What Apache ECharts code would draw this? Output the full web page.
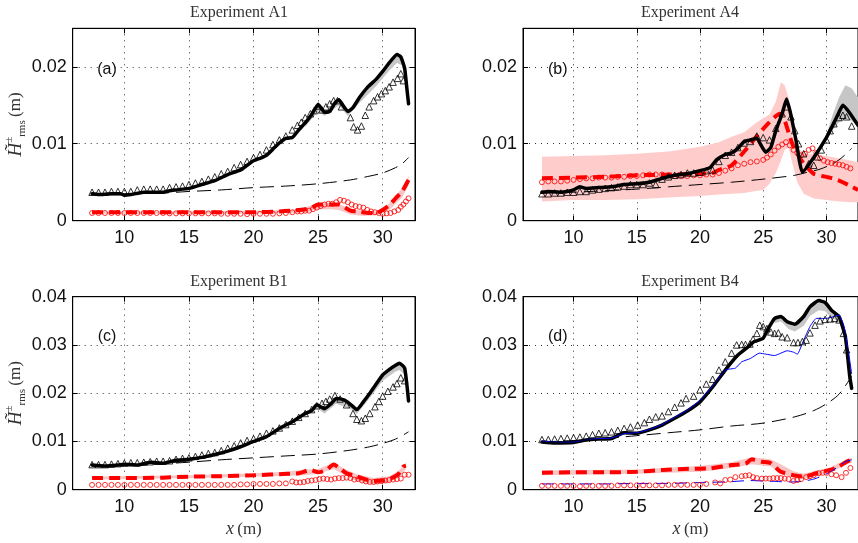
<!DOCTYPE html>
<html><head><meta charset="utf-8">
<script src="https://cdn.jsdelivr.net/npm/echarts@6/dist/echarts.min.js"></script>
<style>html,body{margin:0;padding:0;background:#fff}#c{width:858px;height:543px}</style>
</head><body><div id="c"></div>
<script>
// ---------- ticks & labels ----------
const xTicks = [10, 15, 20, 25, 30];
const yTicksTop = [0, 0.01, 0.02];
const yTicksBottom = [0, 0.01, 0.02, 0.03, 0.04];
const panelTitles = ['Experiment A1', 'Experiment A4', 'Experiment B1', 'Experiment B4'];
const panelLetters = ['(a)', '(b)', '(c)', '(d)'];

// ---------- Panel (a) Experiment A1 ----------
const aLine = [[7.5,0.0035],[8,0.0034],[9,0.0035],[9.7,0.0035],[10,0.0033],[10.5,0.0034],[11.5,0.0037],[12,0.0037],[13,0.0037],[13.5,0.0039],[14,0.004],[15,0.0042],[16,0.0047],[17,0.0052],[17.5,0.0056],[18,0.006],[19,0.0066],[19.5,0.0072],[20,0.0078],[20.5,0.0081],[21,0.0085],[21.5,0.0093],[22,0.0101],[22.5,0.0107],[23,0.0108],[23.5,0.0118],[24,0.0127],[24.5,0.0138],[25,0.0151],[25.5,0.0141],[25.9,0.0142],[26.3,0.0153],[26.6,0.0157],[27,0.0148],[27.3,0.0142],[27.7,0.0147],[28.2,0.016],[28.8,0.0173],[29.5,0.0184],[30,0.0194],[30.5,0.0205],[31.1,0.0216],[31.4,0.0213],[31.7,0.0198],[31.85,0.0175],[32,0.0152]];
const aTri = [[7.5,0.0037],[8,0.0037],[8.5,0.0037],[9,0.0038],[9.5,0.0038],[10,0.0038],[10.5,0.0038],[11,0.004],[11.5,0.0041],[12,0.0041],[12.5,0.0041],[13,0.0041],[13.5,0.0043],[14,0.0044],[14.5,0.0045],[15,0.0047],[15.5,0.0049],[16,0.0051],[16.5,0.0054],[17,0.0057],[17.5,0.0061],[18,0.0064],[18.5,0.0069],[19,0.0073],[19.5,0.0077],[20,0.0082],[20.5,0.0086],[21,0.0092],[21.5,0.0099],[22,0.0105],[22.5,0.011],[23,0.0118],[23.4,0.0124],[23.7,0.0128],[24,0.0134],[24.4,0.0139],[24.7,0.0143],[25,0.0149],[25.3,0.0144],[25.6,0.0148],[25.9,0.0152],[26.2,0.0156],[26.5,0.0156],[26.8,0.0148],[27.5,0.0134],[27.75,0.0122],[28.05,0.0118],[28.35,0.0123],[28.65,0.0137],[28.95,0.0148],[29.3,0.0156],[29.6,0.0161],[29.9,0.0165],[30.2,0.0169],[30.5,0.0174],[30.8,0.018],[31.15,0.0185],[31.4,0.0191],[31.6,0.0182]];
const aDash = [[7.5,0.0034],[10,0.0035],[13,0.0036],[15,0.0038],[17.5,0.004],[20,0.0043],[22.5,0.0045],[25,0.0048],[27.5,0.0053],[29,0.0058],[30,0.0062],[31,0.0069],[31.5,0.0074],[32,0.0082]];
const aRed = [[7.5,0.0011],[10,0.0011],[12.5,0.0011],[15,0.0011],[17.5,0.0011],[20,0.0011],[22,0.0012],[23,0.0013],[24,0.0015],[24.5,0.0017],[25,0.0021],[26,0.0021],[26.6,0.0021],[27,0.0018],[27.5,0.0013],[28,0.0012],[29,0.001],[29.5,0.001],[30,0.0014],[30.5,0.002],[31,0.0029],[31.5,0.0038],[32,0.0053]];
const aCirc = [[7.5,0.001],[8,0.001],[8.5,0.001],[9,0.001],[9.5,0.001],[10,0.001],[10.5,0.001],[11,0.001],[11.5,0.001],[12,0.001],[12.5,0.001],[13,0.001],[13.5,0.00095],[14,0.00095],[14.5,0.00095],[15,0.00095],[15.5,0.00095],[16,0.00095],[16.5,0.00095],[17,0.00095],[17.5,0.0009],[18,0.0009],[18.5,0.0009],[19,0.0009],[19.5,0.00085],[20,0.0009],[20.5,0.0009],[21,0.0009],[21.5,0.0009],[22,0.00095],[22.5,0.001],[23,0.0011],[23.4,0.0012],[23.7,0.0012],[24,0.0013],[24.3,0.0013],[24.6,0.0015],[24.9,0.0017],[25.2,0.0019],[25.5,0.0021],[25.8,0.0022],[26.1,0.0022],[26.4,0.0024],[26.7,0.0027],[27,0.0026],[27.3,0.0024],[27.6,0.0021],[27.9,0.0019],[28.2,0.0018],[28.5,0.0017],[28.8,0.0014],[29.1,0.0012],[29.4,0.0011],[29.7,0.001],[30,0.0009],[30.3,0.00095],[30.6,0.001],[30.9,0.0012],[31.2,0.0014],[31.4,0.0018],[31.6,0.0021],[31.8,0.0025],[32,0.0029]];
const aGreyBand = [[24,0.0122,0.0127],[25,0.0142,0.015],[25.5,0.0136,0.0141],[26.6,0.015,0.0157],[27.3,0.0136,0.0142],[28.2,0.0153,0.016],[29.5,0.0175,0.0184],[30.5,0.0195,0.0205],[31.1,0.0205,0.0216],[31.5,0.0202,0.0212],[31.8,0.0175,0.019],[32,0.0148,0.0152]];
const aPinkBand = [[7.5,0.0009,0.0012],[15,0.0009,0.0012],[20,0.0009,0.0013],[23,0.001,0.0014],[24,0.0011,0.0017],[25,0.0015,0.0023],[26,0.0015,0.0023],[26.6,0.0014,0.0022],[27.5,0.0008,0.0015],[28.5,0.0006,0.0013],[29.5,0.0007,0.0012],[30.5,0.0014,0.0022],[31,0.0022,0.0033],[31.5,0.003,0.0042],[32,0.0046,0.0058]];

// ---------- Panel (b) Experiment A4 ----------
const bLine = [[7.5,0.0037],[8,0.0038],[9,0.0037],[9.5,0.0038],[10,0.004],[10.5,0.0044],[11,0.0042],[12,0.0043],[13,0.0044],[14,0.0047],[15,0.0048],[16,0.005],[17,0.0055],[18,0.0059],[19,0.0061],[20,0.0065],[20.8,0.0069],[21.3,0.0079],[22,0.0086],[22.5,0.0088],[23,0.0094],[23.5,0.0103],[24,0.0105],[24.5,0.0107],[24.8,0.0099],[25.2,0.0089],[25.6,0.0095],[26,0.0117],[26.5,0.0139],[26.85,0.0158],[27.2,0.0137],[27.6,0.0104],[28.1,0.0063],[29,0.0082],[30,0.0108],[30.5,0.0124],[31,0.0141],[31.3,0.015],[31.8,0.0141],[32.5,0.0124]];
const bTri = [[7.5,0.0035],[8,0.0035],[8.5,0.0036],[9,0.0036],[9.5,0.0037],[10,0.0037],[10.5,0.0038],[11,0.0038],[11.5,0.004],[12,0.0041],[12.5,0.0042],[13,0.0043],[13.5,0.0044],[14,0.0045],[14.5,0.0047],[15,0.0047],[15.5,0.0047],[16,0.0049],[16.5,0.0047],[17,0.0054],[17.5,0.0057],[18,0.0059],[18.5,0.006],[19,0.0062],[19.5,0.0062],[20,0.0063],[20.5,0.0065],[21,0.0066],[21.5,0.0077],[22,0.0085],[22.5,0.0089],[23,0.0095],[23.5,0.0101],[24,0.0103],[24.5,0.011],[25,0.0108],[25.5,0.0105],[26,0.012],[26.5,0.0139],[26.8,0.0148],[27.2,0.0135],[27.5,0.0117],[27.8,0.01],[28.2,0.0087],[28.6,0.0074],[29,0.0072],[29.3,0.0083],[29.6,0.0092],[30,0.0105],[30.3,0.0117],[30.6,0.0126],[31,0.0134],[31.3,0.0137],[31.6,0.0135],[32,0.0123]];
const bDash = [[7.5,0.0036],[10,0.0037],[12.5,0.0039],[15,0.0041],[17.5,0.0044],[20,0.0047],[22.5,0.005],[25,0.0054],[27.5,0.0059],[28.5,0.0063],[29.5,0.0067],[30.5,0.0074],[31,0.0079],[31.5,0.0086],[32,0.0094]];
const bRed = [[7.5,0.0055],[10,0.0056],[12.5,0.0057],[15,0.0059],[17.5,0.006],[20,0.0061],[21,0.0062],[21.5,0.0066],[22.5,0.0072],[23.5,0.009],[24.5,0.011],[25.5,0.0128],[26.3,0.0139],[26.7,0.013],[27.3,0.01],[28,0.0079],[29,0.0061],[30,0.0057],[30.5,0.0055],[31,0.0052],[31.8,0.0046],[32.5,0.004]];
const bCirc = [[7.5,0.005],[8,0.0051],[8.5,0.0051],[9,0.0051],[9.5,0.0052],[10,0.0053],[10.5,0.0054],[11,0.0055],[11.5,0.0055],[12,0.0056],[12.5,0.0056],[13,0.0056],[13.5,0.0057],[14,0.0057],[14.5,0.0058],[15,0.0058],[15.5,0.0059],[16,0.006],[16.5,0.006],[17,0.006],[17.5,0.0059],[18,0.0058],[18.5,0.0058],[19,0.0058],[19.5,0.0059],[20,0.0059],[20.5,0.006],[21,0.006],[21.5,0.0062],[22,0.0065],[22.5,0.0068],[23,0.0072],[23.5,0.0074],[24,0.0076],[24.5,0.0077],[25,0.0079],[25.3,0.0082],[25.6,0.0086],[25.9,0.0091],[26.2,0.0096],[26.5,0.0099],[26.8,0.0102],[27.1,0.0098],[27.4,0.0092],[27.7,0.0088],[28,0.0085],[28.3,0.0087],[28.6,0.0092],[28.9,0.0094],[29.2,0.0088],[29.5,0.0081],[29.8,0.0078],[30.1,0.0076],[30.4,0.0075],[30.7,0.0074],[31,0.0073],[31.3,0.0072],[31.6,0.007],[31.9,0.0068]];
const bGreyBand = [[29.5,0.0092,0.0096],[30,0.0104,0.0112],[30.5,0.0118,0.0138],[31,0.0128,0.016],[31.5,0.0132,0.0176],[32,0.013,0.0172],[32.5,0.0122,0.016]];
const bPinkBand = [[7.5,0.0025,0.0083],[10,0.0027,0.0084],[12.5,0.0027,0.0085],[15,0.0028,0.0087],[17.5,0.003,0.009],[20,0.0032,0.0096],[21.5,0.0034,0.0102],[22.5,0.0035,0.0109],[23.5,0.0036,0.0115],[24.5,0.0039,0.0128],[25,0.004,0.0133],[25.5,0.0048,0.0138],[26,0.0062,0.0155],[26.4,0.0078,0.018],[26.7,0.0092,0.0176],[27,0.0095,0.016],[27.3,0.0075,0.011],[27.7,0.005,0.0095],[28.2,0.0035,0.0088],[29,0.0029,0.0086],[30,0.0027,0.0084],[31,0.0025,0.0081],[32,0.0024,0.0078],[32.5,0.0024,0.0076]];

// ---------- Panel (c) Experiment B1 ----------
const cLine = [[7.5,0.0051],[8.5,0.0049],[9.5,0.0051],[10,0.0053],[11,0.0051],[12,0.0057],[13,0.0055],[14,0.0061],[15,0.0063],[16,0.0067],[17,0.0073],[18,0.008],[19,0.0089],[20,0.01],[21,0.011],[22,0.0127],[23,0.0141],[24,0.0158],[24.5,0.0164],[24.9,0.0176],[25.5,0.0168],[26,0.0178],[26.4,0.0189],[27,0.0186],[27.5,0.0177],[28,0.0166],[28.5,0.0182],[29,0.02],[30,0.0238],[30.5,0.0249],[31,0.0258],[31.3,0.0262],[31.7,0.0252],[32,0.0184]];
const cTri = [[7.5,0.0052],[8,0.0052],[8.5,0.0052],[9,0.0053],[9.5,0.0054],[10,0.0055],[10.5,0.0056],[11,0.0056],[11.5,0.0057],[12,0.0058],[12.5,0.0059],[13,0.0059],[13.5,0.006],[14,0.0063],[14.5,0.0065],[15,0.0066],[15.5,0.0069],[16,0.0072],[16.5,0.0075],[17,0.0077],[17.5,0.0081],[18,0.0086],[18.5,0.0091],[19,0.0097],[19.5,0.0102],[20,0.0106],[20.5,0.0111],[21,0.0117],[21.5,0.0122],[22,0.0128],[22.5,0.0135],[23,0.0142],[23.5,0.015],[24,0.0158],[24.5,0.0166],[24.9,0.0174],[25.3,0.0179],[25.6,0.0183],[25.9,0.0188],[26.3,0.0195],[26.7,0.0188],[27.2,0.0176],[27.7,0.0158],[28,0.0146],[28.35,0.0143],[28.65,0.0148],[29,0.0158],[29.4,0.0172],[29.7,0.0183],[30,0.0194],[30.4,0.0204],[30.8,0.0213],[31.1,0.022],[31.4,0.0232],[31.7,0.0226]];
const cDash = [[7.5,0.0049],[10,0.0051],[13,0.0054],[15,0.0057],[17.5,0.0062],[20,0.0066],[22.5,0.007],[25,0.0074],[27.5,0.0082],[29,0.0089],[30,0.0096],[31,0.0105],[32,0.012]];
const cRed = [[7.5,0.0024],[10,0.0024],[13,0.0025],[15,0.0027],[17.5,0.0028],[20,0.003],[22.6,0.0033],[23.5,0.0034],[24.4,0.0041],[25,0.0036],[25.6,0.004],[26.2,0.0052],[26.6,0.0046],[27.2,0.0034],[27.7,0.003],[28.5,0.0023],[29.3,0.0018],[30,0.0019],[30.6,0.0023],[31.2,0.0032],[31.6,0.0048],[31.8,0.005]];
const cCirc = [[7.5,0.001],[8,0.001],[8.5,0.001],[9,0.001],[9.5,0.001],[10,0.001],[10.5,0.001],[11,0.001],[11.5,0.001],[12,0.001],[12.5,0.001],[13,0.001],[13.5,0.001],[14,0.001],[14.5,0.001],[15,0.001],[15.5,0.001],[16,0.001],[16.5,0.001],[17,0.001],[17.5,0.001],[18,0.001],[18.5,0.001],[19,0.0011],[19.5,0.0011],[20,0.0012],[20.5,0.0012],[21,0.0012],[21.5,0.0012],[22,0.0013],[22.5,0.0013],[23,0.0017],[23.3,0.0015],[23.6,0.0015],[23.9,0.0016],[24.2,0.0018],[24.5,0.0019],[24.8,0.002],[25.1,0.0022],[25.4,0.0023],[25.7,0.0022],[26,0.0021],[26.3,0.0023],[26.6,0.0024],[26.9,0.0024],[27.2,0.0025],[27.5,0.0024],[27.8,0.0021],[28.1,0.0022],[28.4,0.0019],[28.7,0.0017],[29,0.0016],[29.3,0.0016],[29.6,0.0017],[29.9,0.0018],[30.2,0.0019],[30.5,0.002],[30.8,0.0021],[31.1,0.0022],[31.4,0.0023],[31.7,0.0031],[32,0.0031]];
const cGreyBand = [[24,0.0152,0.0158],[24.9,0.0169,0.0176],[25.5,0.0158,0.0168],[26.4,0.0178,0.0189],[27.5,0.0168,0.0177],[28,0.0157,0.0166],[29,0.019,0.02],[30,0.0226,0.0238],[31,0.0245,0.0258],[31.3,0.0248,0.0262],[31.7,0.0238,0.0252],[32,0.0175,0.0184]];
const cPinkBand = [[7.5,0.0021,0.0027],[15,0.0024,0.003],[20,0.0027,0.0034],[22.5,0.0029,0.0037],[24,0.003,0.0042],[25,0.0033,0.0043],[26.2,0.0043,0.0056],[27,0.0031,0.0044],[28,0.0018,0.0032],[29.3,0.0011,0.0024],[30.5,0.0015,0.0028],[31.2,0.0025,0.0038],[31.8,0.0043,0.0056]];

// ---------- Panel (d) Experiment B4 ----------
const dLine = [[7.5,0.0099],[8.5,0.0097],[10,0.0098],[11,0.0103],[12,0.0105],[13,0.0106],[14,0.0118],[15,0.0117],[16,0.0124],[17,0.0134],[18,0.0148],[19,0.0163],[20,0.0182],[21,0.0213],[22,0.0248],[23,0.0279],[23.8,0.0296],[24.3,0.0307],[25,0.0314],[25.4,0.0334],[25.9,0.0355],[26.4,0.0359],[26.9,0.0348],[27.5,0.0343],[28.2,0.0359],[28.7,0.0379],[29.4,0.0392],[29.9,0.0388],[30.4,0.0372],[31,0.0359],[31.5,0.0317],[31.85,0.0234],[32,0.021]];
const dBlue = [[7.5,0.0101],[8.5,0.0099],[10,0.0099],[11,0.0104],[12,0.0106],[13,0.0107],[14,0.0116],[15,0.0118],[16,0.0125],[17,0.0135],[18,0.015],[19,0.0165],[20,0.0185],[21,0.0215],[22,0.0248],[22.8,0.0252],[23.3,0.0265],[24,0.0272],[24.7,0.0283],[25.2,0.0281],[25.9,0.0278],[26.4,0.0283],[26.9,0.0288],[27.4,0.0285],[27.7,0.0281],[28.2,0.031],[28.7,0.0338],[29.2,0.0355],[30,0.0355],[30.5,0.0358],[31,0.0362],[31.4,0.0338],[31.8,0.0276],[32,0.024]];
const dTri = [[7.5,0.0104],[8,0.0104],[8.5,0.0105],[9,0.0106],[9.5,0.0107],[10,0.0108],[10.5,0.0109],[11,0.0111],[11.5,0.0114],[12,0.0117],[12.5,0.0118],[13,0.012],[13.5,0.0123],[14,0.0127],[14.5,0.013],[15.07,0.0134],[15.6,0.0139],[16,0.0146],[16.5,0.0151],[17,0.0153],[17.5,0.0162],[18,0.0171],[18.5,0.018],[18.9,0.0189],[19.5,0.0194],[20,0.0207],[20.5,0.0219],[21,0.0229],[21.5,0.0248],[22,0.0265],[22.5,0.0283],[22.9,0.03],[23.3,0.0301],[23.6,0.0301],[23.95,0.0302],[24.2,0.0312],[24.5,0.0324],[24.73,0.0341],[25,0.0338],[25.3,0.0334],[25.6,0.0327],[25.9,0.0324],[26.2,0.0325],[26.5,0.0317],[26.9,0.0315],[27.4,0.0305],[27.75,0.0305],[28.1,0.0307],[28.4,0.031],[28.7,0.0325],[29.1,0.0341],[29.5,0.035],[29.9,0.0353],[30.3,0.0354],[30.65,0.0355],[31,0.0352],[31.35,0.0324],[31.6,0.029]];
const dDash = [[7.5,0.0099],[10,0.0102],[12.5,0.0106],[15,0.0112],[17.5,0.0118],[20,0.0124],[22.5,0.0132],[25,0.0138],[27.5,0.0151],[29,0.0164],[30,0.0178],[31,0.0198],[32,0.0235]];
const dRed = [[7.5,0.0035],[10,0.0036],[12.5,0.0036],[15,0.0037],[17,0.0041],[18.7,0.0043],[20.7,0.0044],[22.5,0.0051],[23.6,0.0054],[24.1,0.0063],[24.9,0.0058],[25.6,0.0055],[26.4,0.0037],[27.4,0.003],[28.2,0.0027],[29.2,0.0034],[30.3,0.0041],[31,0.0048],[31.6,0.0058],[32,0.0062]];
const dCirc = [[7.5,0.0008],[8,0.0008],[8.5,0.0008],[9,0.0008],[9.5,0.0008],[10,0.0008],[10.5,0.0007],[11,0.0008],[11.5,0.0008],[12,0.0008],[12.5,0.0008],[13,0.0008],[13.5,0.0009],[14,0.0009],[14.5,0.0009],[15,0.0009],[15.5,0.0009],[16,0.0009],[16.5,0.0009],[17,0.0009],[17.5,0.001],[18,0.001],[18.5,0.001],[19,0.001],[19.5,0.001],[20,0.001],[20.5,0.0012],[21.2,0.0015],[21.6,0.0013],[22,0.002],[22.4,0.0021],[22.8,0.0026],[23.3,0.0028],[23.6,0.0029],[23.9,0.003],[24.2,0.0026],[24.5,0.0024],[24.9,0.0023],[25.2,0.0023],[25.5,0.0023],[25.8,0.0024],[26.1,0.0024],[26.4,0.0024],[26.7,0.0023],[27,0.0022],[27.4,0.0018],[27.7,0.002],[28,0.0022],[28.4,0.0026],[28.7,0.0028],[29,0.003],[29.4,0.0034],[29.7,0.0035],[30,0.0035],[30.4,0.0032],[30.77,0.003],[31.2,0.0026],[31.55,0.0035],[31.9,0.0045]];
const dBlueDash = [[7.5,0.0012],[10,0.0012],[12.5,0.0012],[15,0.0013],[17.5,0.0013],[20,0.0015],[22,0.0016],[24,0.0019],[25,0.0018],[26,0.0017],[27,0.0016],[28,0.0017],[29,0.0022],[29.8,0.003],[30.5,0.004],[31.5,0.0058],[32,0.0062]];
const dGreyBand = [[25.9,0.0345,0.0355],[26.4,0.0349,0.0359],[27,0.0333,0.0347],[27.5,0.0328,0.0343],[28.2,0.034,0.0359],[28.7,0.036,0.0379],[29.4,0.0372,0.0392],[29.9,0.037,0.0388],[30.4,0.0356,0.0372],[31,0.0348,0.0359],[31.5,0.031,0.0317]];
const dPinkBand = [[7.5,0.003,0.004],[15,0.0033,0.0042],[20,0.0037,0.0049],[22.5,0.0045,0.0057],[24.1,0.0053,0.0067],[25.6,0.0048,0.0063],[26.4,0.0033,0.0052],[27.4,0.0025,0.0038],[28.2,0.0022,0.0033],[29.2,0.0029,0.004],[30.3,0.0036,0.0046],[31.6,0.0052,0.0063],[32,0.0056,0.0066]];

// ---------- layout ----------
const grids = [
  {left: 72.7, top: 28.3, width: 342.3, height: 192.4},
  {left: 523, top: 28.3, width: 343, height: 192.4},
  {left: 72.7, top: 296.7, width: 342.3, height: 193},
  {left: 523, top: 296.7, width: 343, height: 193}
];
const yMax = [0.025, 0.025, 0.04, 0.04];
const panels = [
  {line: aLine, tri: aTri, dash: aDash, red: aRed, circ: aCirc, grey: aGreyBand, pink: aPinkBand, pinkColor: '#f9c4c4'},
  {line: bLine, tri: bTri, dash: bDash, red: bRed, circ: bCirc, grey: bGreyBand, pink: bPinkBand, pinkColor: '#ffcccc'},
  {line: cLine, tri: cTri, dash: cDash, red: cRed, circ: cCirc, grey: cGreyBand, pink: cPinkBand, pinkColor: '#f9c4c4'},
  {line: dLine, tri: dTri, dash: dDash, red: dRed, circ: dCirc, grey: dGreyBand, pink: dPinkBand, pinkColor: '#f9c4c4', blue: dBlue, blueDash: dBlueDash}
];

const SANS = '"Liberation Sans", Arial, sans-serif';
const SERIF = '"Liberation Serif", "DejaVu Serif", serif';

const xAxes = [], yAxes = [], series = [];
grids.forEach((g, i) => {
  const bottomRow = i >= 2, leftCol = i % 2 === 0;
  const yTicks = bottomRow ? yTicksBottom : yTicksTop;
  xAxes.push({
    gridIndex: i, type: 'value', min: 6, max: 32.5, position: 'bottom',
    axisLine: {show: true, onZero: false, lineStyle: {color: '#000', width: 1}},
    axisTick: {show: true, inside: true, length: 5, customValues: xTicks, lineStyle: {color: '#000'}},
    axisLabel: {show: true, customValues: xTicks, fontSize: 18, fontFamily: SANS, color: '#111', margin: 8},
    splitLine: {show: true, lineStyle: {color: '#333', width: 1, type: [1, 5]}},
    name: bottomRow ? '{i|x} {n|(m)}' : '', nameLocation: 'middle', nameGap: 31,
    nameTextStyle: {rich: {i: {fontFamily: SERIF, fontStyle: 'italic', fontSize: 18, color: '#333'}, n: {fontFamily: SERIF, fontSize: 17, color: '#333'}}}
  });
  xAxes.push({
    gridIndex: i, type: 'value', min: 6, max: 32.5, position: 'top',
    axisLine: {show: true, onZero: false, lineStyle: {color: '#000', width: 1}},
    axisTick: {show: true, inside: true, length: 5, customValues: xTicks, lineStyle: {color: '#000'}},
    axisLabel: {show: false}, splitLine: {show: false}
  });
  yAxes.push({
    gridIndex: i, type: 'value', min: 0, max: yMax[i], position: 'left',
    axisLine: {show: true, onZero: false, lineStyle: {color: '#000', width: 1}},
    axisTick: {show: true, inside: true, length: 5, customValues: yTicks, lineStyle: {color: '#000'}},
    axisLabel: {show: true, customValues: yTicks, fontSize: 18, fontFamily: SANS, color: '#111', margin: 6},
    splitLine: {show: true, lineStyle: {color: '#333', width: 1, type: [1, 5]}},
    name: leftCol ? '{h|H\u0303}{sup|\u00b1}{sub|rms} {m|(m)}' : '', nameLocation: 'middle', nameGap: 44, nameRotate: 90,
    nameTextStyle: {rich: {
      h: {fontFamily: SERIF, fontStyle: 'italic', fontSize: 19, color: '#333', lineHeight: 24},
      sup: {fontFamily: SERIF, fontSize: 11, color: '#333', verticalAlign: 'top', lineHeight: 24},
      sub: {fontFamily: SERIF, fontSize: 11, color: '#333', verticalAlign: 'bottom', lineHeight: 24},
      m: {fontFamily: SERIF, fontSize: 17, color: '#333', lineHeight: 24}
    }}
  });
  yAxes.push({
    gridIndex: i, type: 'value', min: 0, max: yMax[i], position: 'right',
    axisLine: {show: true, onZero: false, lineStyle: {color: '#000', width: 1}},
    axisTick: {show: true, inside: true, length: 5, customValues: yTicks, lineStyle: {color: '#000'}},
    axisLabel: {show: false}, splitLine: {show: false}
  });

  const p = panels[i];
  const ax = {xAxisIndex: 2 * i, yAxisIndex: 2 * i};
  // uncertainty band: one polygon mapped through the axes (api.coord)
  const band = (rows, color, z) => Object.assign({
    type: 'custom', data: rows, encode: {x: 0, y: [1, 2]}, clip: true, silent: true, z: z,
    renderItem: (params, api) => {
      if (params.dataIndex !== 0) return null;
      const upper = rows.map(r => api.coord([r[0], r[2]]));
      const lower = rows.map(r => api.coord([r[0], r[1]])).reverse();
      return {type: 'polygon', shape: {points: upper.concat(lower)}, style: {fill: color}};
    }
  }, ax);
  series.push(band(p.pink, p.pinkColor, 1));
  series.push(band(p.grey, '#c6c6c6', 1));
  series.push(Object.assign({type: 'line', data: p.dash, symbol: 'none', smooth: 0.3,
    lineStyle: {color: '#000', width: 1, type: [14, 7]}, z: 2}, ax));
  series.push(Object.assign({type: 'line', data: p.red, symbol: 'none', smooth: 0.2,
    lineStyle: {color: '#ff0000', width: 4, type: [11, 6]}, z: 3}, ax));
  if (p.blueDash) series.push(Object.assign({type: 'line', data: p.blueDash, symbol: 'none', smooth: 0.2,
    lineStyle: {color: '#0000ff', width: 1, type: [12, 7]}, z: 3}, ax));
  series.push(Object.assign({type: 'scatter', data: p.circ, symbol: 'circle', symbolSize: 5,
    itemStyle: {color: 'rgba(0,0,0,0)', borderColor: '#ff0000', borderWidth: 1}, z: 4}, ax));
  series.push(Object.assign({type: 'line', data: p.line, symbol: 'none', smooth: 0.15,
    lineStyle: {color: '#000', width: 3.5, cap: 'round', join: 'round'}, z: 5}, ax));
  if (p.blue) series.push(Object.assign({type: 'line', data: p.blue, symbol: 'none', smooth: 0.15,
    lineStyle: {color: '#0000ff', width: 1}, z: 6}, ax));
  series.push(Object.assign({type: 'scatter', data: p.tri, symbol: 'triangle', symbolSize: 6.5,
    itemStyle: {color: 'rgba(0,0,0,0)', borderColor: '#000', borderWidth: 1}, z: 7}, ax));
});

const titlePos = [[239, 13], [690, 13], [239, 282], [690, 282]];
const letterPos = [[107, 70], [557.7, 70], [107, 337], [557.7, 337]];
const graphic = [];
panelTitles.forEach((t, i) => graphic.push({type: 'text', x: titlePos[i][0], y: titlePos[i][1], z: 100,
  style: {text: t, font: '16px ' + SERIF, fill: '#333', textAlign: 'center', align: 'center', textVerticalAlign: 'middle', verticalAlign: 'middle'}}));
panelLetters.forEach((t, i) => graphic.push({type: 'text', x: letterPos[i][0], y: letterPos[i][1], z: 100,
  style: {text: t, font: '16px ' + SANS, fill: '#111', textAlign: 'center', align: 'center', textVerticalAlign: 'middle', verticalAlign: 'middle'}}));

const chart = echarts.init(document.getElementById('c'), null, {renderer: 'canvas'});
chart.setOption({
  animation: false,
  backgroundColor: '#fff',
  grid: grids.map(g => Object.assign({show: true, borderColor: '#000', borderWidth: 1, backgroundColor: '#fff', containLabel: false}, g)),
  xAxis: xAxes,
  yAxis: yAxes,
  series: series,
  graphic: graphic
});
</script></body></html>
